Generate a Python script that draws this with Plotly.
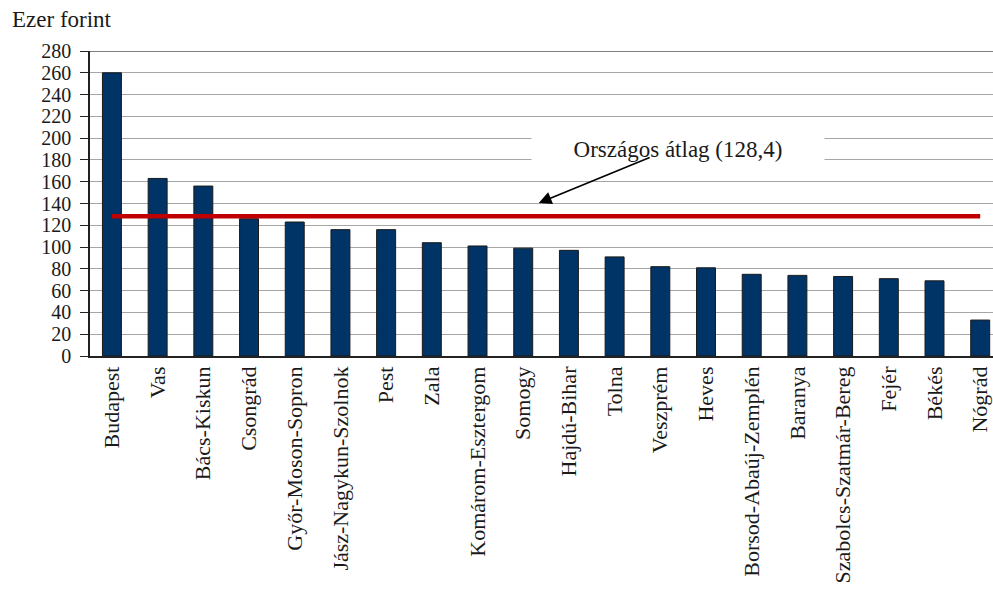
import plotly.graph_objects as go

categories = ["Budapest", "Vas", "Bács-Kiskun", "Csongrád", "Győr-Moson-Sopron",
              "Jász-Nagykun-Szolnok", "Pest", "Zala", "Komárom-Esztergom", "Somogy",
              "Hajdú-Bihar", "Tolna", "Veszprém", "Heves", "Borsod-Abaúj-Zemplén",
              "Baranya", "Szabolcs-Szatmár-Bereg", "Fejér", "Békés", "Nógrád"]
values = [260, 163, 156, 126, 123, 116, 116, 104, 101, 99,
          97, 91, 82, 81, 75, 74, 73, 71, 69, 33]
national_avg = 128.4
y_ticks = list(range(0, 281, 20))

FONT = "Liberation Serif"
FS = 23
TXT = "#1a1a1a"

fig = go.Figure()
fig.add_trace(go.Bar(
    x=categories, y=values,
    marker=dict(color="#003366", line=dict(color="#1a1a1a", width=1)),
    showlegend=False, hoverinfo="x+y"))
fig.add_trace(go.Scatter(
    x=categories, y=[national_avg] * len(categories), mode="lines",
    line=dict(color="#C00000", width=4.5), showlegend=False))

fig.update_layout(
    width=993, height=594,
    margin=dict(l=90, r=0, t=51, b=238),
    plot_bgcolor="white", paper_bgcolor="white",
    bargap=0.585,
    font=dict(family=FONT, size=FS, color=TXT),
    xaxis=dict(type="category", range=[-0.48, 19.28], showgrid=False,
               showline=True, linecolor="#222", linewidth=1.5,
               tickangle=-90, tickfont=dict(family=FONT, size=22, color=TXT),
               ticks="", fixedrange=True, automargin=False),
    yaxis=dict(range=[0, 280], tickvals=y_ticks, showgrid=True,
               gridcolor="#a6a6a6", gridwidth=1,
               showline=True, linecolor="#222", linewidth=1.5,
               ticks="outside", ticklen=8, tickcolor="#222",
               ticklabelstandoff=5,
               tickfont=dict(family=FONT, size=20, color=TXT),
               zeroline=False, automargin=False),
    shapes=[dict(type="line", xref="paper", yref="y", x0=0, x1=1, y0=280, y1=280,
                 line=dict(color="#555", width=1.5))],
    annotations=[
        dict(text="Ezer forint", xref="paper", yref="paper",
             x=-80 / 903, y=1 + 31 / 305, xanchor="left", yanchor="middle",
             showarrow=False, font=dict(family=FONT, size=FS, color=TXT)),
        dict(text="Országos átlag (128,4)", xref="x", yref="y",
             x=12.39, y=190, showarrow=False, width=290, height=44,
             bgcolor="white", font=dict(family=FONT, size=FS, color=TXT)),
        dict(text="", xref="x", yref="y", x=9.34, y=140.5,
             axref="x", ayref="y", ax=11.8, ay=182.7,
             showarrow=True, arrowhead=2, arrowsize=1.6, arrowwidth=1.6,
             arrowcolor="black", standoff=0, startstandoff=0),
    ],
)

fig.write_html(
    "out.html",
    config={"displayModeBar": False},
    post_script="document.body.style.margin='0';document.body.style.overflow='hidden';",
)
